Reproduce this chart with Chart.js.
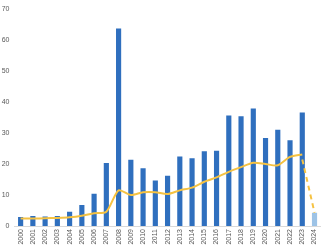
<!DOCTYPE html>
<html>
<head>
<meta charset="utf-8">
<script src="https://cdn.jsdelivr.net/npm/chart.js@4"></script>
<style>
  html, body { margin: 0; padding: 0; background: #fff; }
  #wrap { width: 326px; height: 245px; }
</style>
</head>
<body>
<div id="wrap"><canvas id="chart" width="326" height="245"></canvas></div>
<script>
// values
const years = ['2000', '2001', '2002', '2003', '2004', '2005', '2006', '2007', '2008', '2009',
    '2010', '2011', '2012', '2013', '2014', '2015', '2016', '2017', '2018', '2019',
    '2020', '2021', '2022', '2023', '2024'];
const counts = [2.8, 3.1, 3.0, 3.1, 4.5, 6.7, 10.3, 20.2, 63.7, 21.3,
    18.5, 14.6, 16.1, 22.3, 21.8, 24.0, 24.2, 35.6, 35.3, 37.8,
    28.3, 31.0, 27.6, 36.5, 4.2];
const trend = [2.4, 2.4, 2.5, 2.6, 2.8, 3.3, 4.1, 4.6, 11.5, 10.0,
    10.9, 10.9, 10.3, 11.5, 12.4, 14.3, 15.7, 17.5, 19.0, 20.4,
    20.0, 19.6, 22.3, 23.1, null];
const trendTail = [null, null, null, null, null, null, null, null, null, null,
    null, null, null, null, null, null, null, null, null, null,
    null, null, null, 21.5, 4.3];
const partialYear = '2024';
const yTicks = [0, 10, 20, 30, 40, 50, 60, 70];

const barColors = years.map(y => y === partialYear ? '#9DC3E6' : '#2F6FBE');

const ctx = document.getElementById('chart').getContext('2d');
new Chart(ctx, {
    type: 'bar',
    data: {
        labels: years,
        datasets: [
            {
                type: 'line',
                data: trend,
                borderColor: '#F5C242',
                borderWidth: 2,
                pointRadius: 0,
                tension: 0.25,
                order: 0
            },
            {
                type: 'line',
                data: trendTail,
                borderColor: '#F5C242',
                borderWidth: 2,
                borderDash: [5, 4],
                pointRadius: 0,
                order: 0
            },
            {
                data: counts,
                backgroundColor: barColors,
                barThickness: 4.5,
                order: 1
            }
        ]
    },
    options: {
        responsive: false,
        animation: false,
        layout: { padding: { top: 0, right: 4, left: 0, bottom: 0 } },
        plugins: {
            legend: { display: false },
            tooltip: { enabled: false }
        },
        scales: {
            x: {
                grid: { display: false, drawTicks: false },
                border: { color: '#D9D9D9' },
                ticks: {
                    color: '#595959',
                    font: { family: 'Liberation Sans', size: 7 },
                    minRotation: 90,
                    maxRotation: 90,
                    autoSkip: false,
                    padding: 3
                },
                afterFit: (scale) => { scale.height = 19; }
            },
            y: {
                min: 0,
                max: 70,
                grid: { display: false, drawTicks: false },
                border: { display: false },
                afterBuildTicks: (scale) => { scale.ticks = yTicks.map(v => ({ value: v })); },
                ticks: {
                    color: '#595959',
                    font: { family: 'Liberation Sans', size: 7 },
                    padding: 5
                },
                afterFit: (scale) => { scale.width = 14.5; }
            }
        }
    }
});
</script>
</body>
</html>
